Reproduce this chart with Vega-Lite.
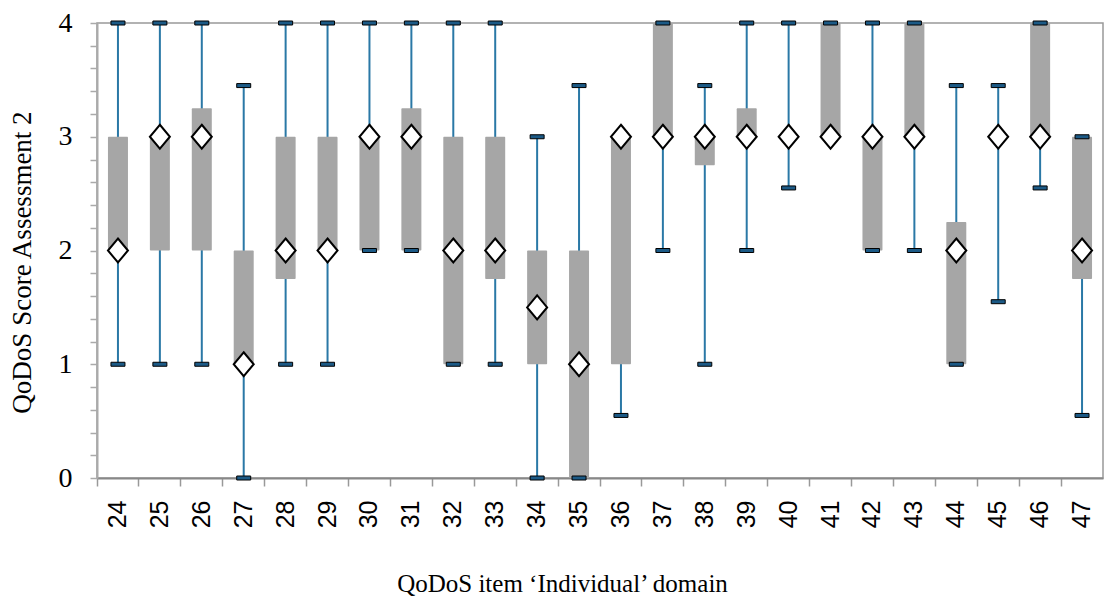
{
  "$schema": "https://vega.github.io/schema/vega-lite/v6.json",
  "autosize": "none",
  "width": 1006,
  "height": 455,
  "padding": {"left": 97, "top": 23, "right": 2, "bottom": 124},
  "background": "white",
  "config": {
    "view": {"stroke": "#999999", "strokeWidth": 1.5},
    "axisY": {"labelOverlap": false, "labelFlush": false}
  },
  "data": {
    "values": [
      {"item": "24", "min": 1, "q1": 2, "median": 2, "q3": 3, "max": 4},
      {"item": "25", "min": 1, "q1": 2, "median": 3, "q3": 3, "max": 4},
      {"item": "26", "min": 1, "q1": 2, "median": 3, "q3": 3.25, "max": 4},
      {"item": "27", "min": 0, "q1": 1, "median": 1, "q3": 2, "max": 3.45},
      {"item": "28", "min": 1, "q1": 1.75, "median": 2, "q3": 3, "max": 4},
      {"item": "29", "min": 1, "q1": 2, "median": 2, "q3": 3, "max": 4},
      {"item": "30", "min": 2, "q1": 2, "median": 3, "q3": 3, "max": 4},
      {"item": "31", "min": 2, "q1": 2, "median": 3, "q3": 3.25, "max": 4},
      {"item": "32", "min": 1, "q1": 1, "median": 2, "q3": 3, "max": 4},
      {"item": "33", "min": 1, "q1": 1.75, "median": 2, "q3": 3, "max": 4},
      {"item": "34", "min": 0, "q1": 1, "median": 1.5, "q3": 2, "max": 3},
      {"item": "35", "min": 0, "q1": 0, "median": 1, "q3": 2, "max": 3.45},
      {"item": "36", "min": 0.55, "q1": 1, "median": 3, "q3": 3, "max": 3},
      {"item": "37", "min": 2, "q1": 3, "median": 3, "q3": 4, "max": 4},
      {"item": "38", "min": 1, "q1": 2.75, "median": 3, "q3": 3, "max": 3.45},
      {"item": "39", "min": 2, "q1": 3, "median": 3, "q3": 3.25, "max": 4},
      {"item": "40", "min": 2.55, "q1": 3, "median": 3, "q3": 3, "max": 4},
      {"item": "41", "min": 3, "q1": 3, "median": 3, "q3": 4, "max": 4},
      {"item": "42", "min": 2, "q1": 2, "median": 3, "q3": 3, "max": 4},
      {"item": "43", "min": 2, "q1": 3, "median": 3, "q3": 4, "max": 4},
      {"item": "44", "min": 1, "q1": 1, "median": 2, "q3": 2.25, "max": 3.45},
      {"item": "45", "min": 1.55, "q1": 3, "median": 3, "q3": 3, "max": 3.45},
      {"item": "46", "min": 2.55, "q1": 3, "median": 3, "q3": 4, "max": 4},
      {"item": "47", "min": 0.55, "q1": 1.75, "median": 2, "q3": 3, "max": 3}
    ]
  },
  "encoding": {
    "x": {
      "field": "item",
      "type": "ordinal",
      "scale": {"paddingInner": 0, "paddingOuter": 0},
      "axis": {
        "title": "QoDoS item \u2018Individual\u2019 domain",
        "titleFont": "Liberation Serif",
        "titleFontSize": 25,
        "titleFontWeight": "normal",
        "titleColor": "black",
        "titleX": 465,
        "titleY": 113,
        "titleBaseline": "alphabetic",
        "titleAlign": "center",
        "labelAngle": -90,
        "labelFont": "Liberation Sans",
        "labelFontSize": 25,
        "labelColor": "black",
        "labelPadding": 14,
        "bandPosition": 0,
        "tickSize": 8,
        "tickColor": "#999999",
        "tickWidth": 1.5,
        "domainColor": "#888888",
        "domainWidth": 2,
        "grid": false
      }
    }
  },
  "layer": [
    {
      "mark": {"type": "rule", "color": "#2a78a6", "strokeWidth": 2},
      "encoding": {
        "y": {
          "field": "min",
          "type": "quantitative",
          "scale": {"domain": [0, 4], "nice": false},
          "axis": {
            "title": "QoDoS Score Assessment 2",
            "titleFont": "Liberation Serif",
            "titleFontSize": 27,
            "titleFontWeight": "normal",
            "titleColor": "black",
            "titleX": -75,
            "titleY": 239,
            "titleAngle": -90,
            "titleAlign": "center",
            "titleBaseline": "middle",
            "values": [0, 0.2, 0.4, 0.6, 0.8, 1, 1.2, 1.4, 1.6, 1.8, 2, 2.2, 2.4, 2.6, 2.8, 3, 3.2, 3.4, 3.6, 3.8, 4],
            "tickCount": 40,
            "labelExpr": "datum.value % 1 == 0 ? format(datum.value, 'd') : ''",
            "labelOverlap": false,
            "labelFlush": false,
            "labelFont": "Liberation Serif",
            "labelFontSize": 28,
            "labelColor": "black",
            "labelPadding": 18,
            "tickSize": 7,
            "tickColor": "#aaaaaa",
            "tickWidth": 1.5,
            "domainColor": "#aaaaaa",
            "domainWidth": 2,
            "grid": false
          }
        },
        "y2": {"field": "max"}
      }
    },
    {
      "mark": {"type": "bar", "color": "#a6a6a6", "width": 20, "cornerRadius": 1},
      "encoding": {
        "y": {"field": "q1", "type": "quantitative"},
        "y2": {"field": "q3"}
      }
    },
    {
      "mark": {"type": "tick", "fill": "#1c5a86", "stroke": "black", "strokeWidth": 1, "opacity": 1, "size": 14, "thickness": 4},
      "encoding": {
        "y": {"field": "min", "type": "quantitative"}
      }
    },
    {
      "mark": {"type": "tick", "fill": "#1c5a86", "stroke": "black", "strokeWidth": 1, "opacity": 1, "size": 14, "thickness": 4},
      "encoding": {
        "y": {"field": "max", "type": "quantitative"}
      }
    },
    {
      "mark": {"type": "point", "shape": "M0,-1.2L1,0L0,1.2L-1,0Z", "size": 400, "filled": true, "fill": "white", "stroke": "black", "strokeWidth": 2, "opacity": 1},
      "encoding": {
        "y": {"field": "median", "type": "quantitative"}
      }
    }
  ]
}
